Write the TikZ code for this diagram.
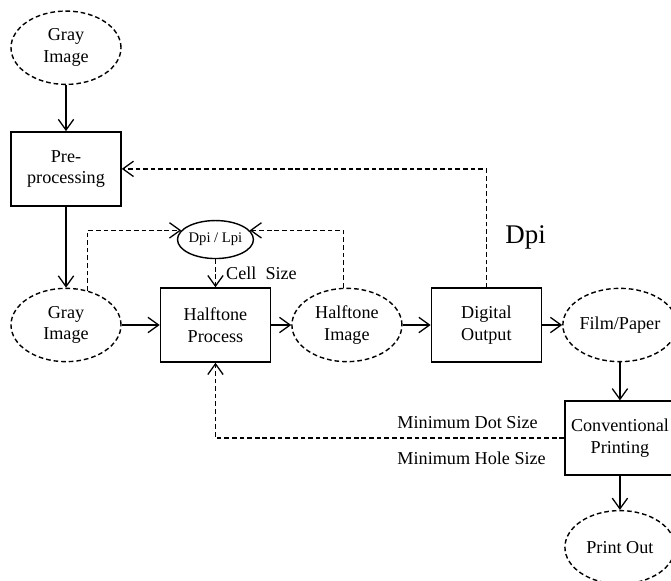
\documentclass[tikz,border=0pt]{standalone}
\usepackage{fontspec}
\setmainfont{Liberation Serif}
\usetikzlibrary{shapes.geometric, arrows.meta, positioning, calc}
\tikzset{
  procbox/.style={rectangle, draw=black, minimum width=3.3cm, minimum height=2.22cm,
    align=center, inner sep=1pt, line width=1.3pt},
  dataell/.style={ellipse, draw=black, dash pattern=on 4pt off 2.5pt, minimum width=3.3cm,
    minimum height=2.2cm, align=center, inner sep=0pt, line width=1.2pt},
  paramell/.style={ellipse, draw=black, minimum width=2.13cm, minimum height=1.14cm,
    inner sep=0pt, line width=1.2pt, font=\fontsize{12.5}{14}\selectfont},
  arrow/.style={-{Straight Barb[length=3.2mm, width=4.6mm, line width=1.1pt]}, line width=1.3pt},
  dasharrow/.style={-{Straight Barb[length=3.2mm, width=4.6mm, line width=1.1pt]}, line width=1.2pt,
    dash pattern=on 4pt off 2.5pt}
}

\begin{document}
\begin{tikzpicture}[font=\fontsize{15.5}{18.5}\selectfont]
  \useasboundingbox (-1.98,-7.65) rectangle (18.15,9.75);

  % Nodes
  \node[dataell] (gray2) at (0,0) {Gray\\Image};
  \node[procbox, above=2.43cm of gray2] (pre) {Pre-\\processing};
  \node[dataell, above=1.38cm of pre] (gray1) {Gray\\Image};
  \node[procbox, right=1.14cm of gray2] (hp) {Halftone\\Process};
  \node[paramell, above=0.84cm of hp] (dpi) {Dpi / Lpi};
  \node[dataell, right=0.6cm of hp] (himg) {Halftone\\Image};
  \node[procbox, right=0.84cm of himg] (dout) {Digital\\Output};
  \node[dataell, right=0.6cm of dout] (film) {Film/Paper};
  \node[procbox, below=1.14cm of film] (conv) {Conventional\\Printing};
  \node[dataell, below=1.02cm of conv] (pout) {Print Out};

  % Arrows
  \draw[arrow] (gray1) -- (pre);
  \draw[arrow] (pre) -- (gray2);
  \draw[arrow] (gray2) -- (hp);
  \draw[arrow] (hp) -- (himg);
  \draw[arrow] (himg) -- (dout);
  \draw[arrow] (dout) -- (film);
  \draw[arrow] (film) -- (conv);
  \draw[arrow] (conv) -- (pout);

  % Feedback loops
  \draw[dasharrow] (gray2.58) |- (dpi.165);
  \draw[dasharrow] (himg.95) |- (dpi.15);
  \draw[dasharrow] (dpi) -- node[right, inner sep=0pt, xshift=0.3cm] {Cell~~Size} (hp);
  \draw[dasharrow] (dout.north) |- node[pos=0.21, right, inner sep=0pt, xshift=0.55cm,
    font=\fontsize{23}{26}\selectfont] {Dpi} (pre.east);
  \draw[dasharrow] (conv.west) -| (hp.south)
    node[pos=0.24, anchor=base west, inner sep=0pt, yshift=0.3cm] {Minimum Dot Size}
    node[pos=0.24, anchor=base west, inner sep=0pt, yshift=-0.78cm] {Minimum Hole Size};
\end{tikzpicture}
\end{document}
